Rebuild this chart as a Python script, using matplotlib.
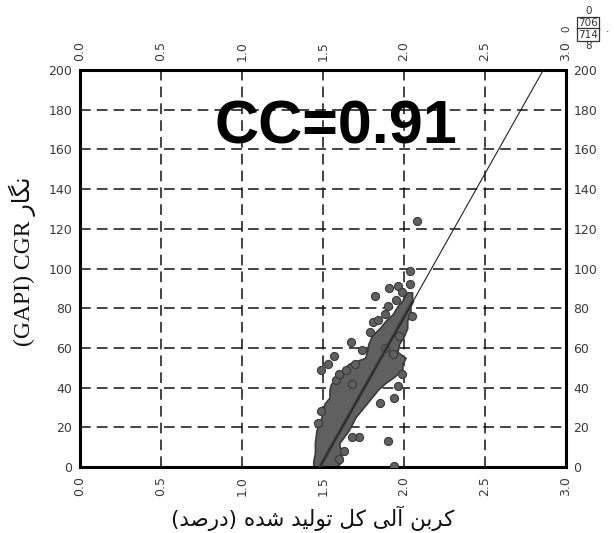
import matplotlib
matplotlib.use("Agg")
import matplotlib.pyplot as plt

# x ticks / y ticks
x_ticks = [0.0, 0.5, 1.0, 1.5, 2.0, 2.5, 3.0]
x_tick_labels = ["0.0", "0.5", "1.0", "1.5", "2.0", "2.5", "3.0"]
y_ticks = [0, 20, 40, 60, 80, 100, 120, 140, 160, 180, 200]

# dense cloud of samples, read as left / right edges per GR value
cloud_y = [0, 3, 7, 12, 18.6, 25, 32, 35, 39, 42, 45.5, 49, 52, 55, 58, 62, 66,
           70, 74, 77, 81, 84, 88]
cloud_left = [1.44, 1.44, 1.45, 1.45, 1.46, 1.49, 1.51, 1.54, 1.54, 1.55, 1.62,
              1.62, 1.66, 1.76, 1.77, 1.78, 1.80, 1.85, 1.89, 1.93, 1.96, 1.99, 2.02]
cloud_right = [1.58, 1.62, 1.61, 1.60, 1.66, 1.70, 1.77, 1.80, 1.84, 1.88, 1.94,
               1.99, 1.99, 2.01, 1.96, 1.97, 2.00, 2.02, 2.02, 2.04, 2.04, 2.05, 2.05]

# scattered samples off / on the edge of the main cloud
pts_x = [2.08, 2.04, 2.04, 1.96, 1.91, 1.82, 1.90, 2.05, 1.81, 1.79, 1.67, 1.74,
         1.57, 1.53, 1.49, 1.70, 1.64, 1.99, 1.68, 1.96, 1.94, 1.85, 1.90, 1.94,
         1.72, 1.68, 1.58, 1.60, 1.88, 1.93, 1.97, 1.84, 1.88, 1.95, 1.99,
         1.47, 1.49, 1.60, 1.63]
pts_y = [124, 99, 92, 91, 90, 86, 81, 76, 73, 68, 63, 59,
         56, 52, 49, 52, 49, 47, 42, 41, 35, 32, 13, 0.5,
         15, 15, 44, 47, 60, 57, 66, 74, 77, 84, 88,
         22, 28, 4, 8]

# fitted line (end points)
fit_x = [1.48, 2.86]
fit_y = [0, 200]
core_x = [1.48, 2.05]
core_y = [0, 83]

cc_text = "CC=0.91"
# Persian labels written in visual order with presentation forms
xlabel = ("(\uFEAA\uFEBB\uFEAD\uFEA9) \uFEE9\uFEAA\uFEB7 "
          "\uFEAA\uFBFF\uFEDF\uFEEE\uFE97 \uFEDE\uFB90 "
          "\uFBFD\uFEDF\uFE81 \uFEE6\uFE91\uFEAE\uFB90")
ylabel = "(GAPI) CGR \uFEAD\uFE8E\uFB95\uFEE7"

tick_font = dict(family="DejaVu Sans", size=9, color="#3a3a3a")

fig = plt.figure(figsize=(6.14, 5.33), dpi=100)
ax = fig.add_axes([0.1303, 0.1238, 0.7915, 0.7448])

ax.set_xlim(0, 3)
ax.set_ylim(0, 200)
ax.set_axisbelow(True)
ax.grid(True, color="#111111", linestyle=(0, (7, 4)), linewidth=1.1)

ax.fill_betweenx(cloud_y, cloud_left, cloud_right, facecolor="#606060",
                 edgecolor="#3a3a3a", linewidth=1.2, zorder=2)
ax.scatter(pts_x, pts_y, s=34, color="#606060", edgecolors="#3a3a3a",
           linewidths=0.8, zorder=3)
ax.plot(core_x, core_y, color="#454545", linewidth=2.5, zorder=4)
ax.plot(fit_x, fit_y, color="#222222", linewidth=0.8, zorder=4)

ax.text(1.58, 171, cc_text, ha="center", va="center", fontsize=44,
        fontweight="bold", family="Liberation Sans", color="black", zorder=5)

ax.set_xticks(x_ticks)
ax.set_xticklabels(x_tick_labels, rotation=90)
ax.set_yticks(y_ticks)
ax.set_yticklabels([str(v) for v in y_ticks])
ax.tick_params(axis="x", which="both", bottom=False, top=False,
               labelbottom=True, labeltop=True, pad=3)
ax.tick_params(axis="y", which="both", left=False, right=False,
               labelleft=True, labelright=True, pad=2)
for t in ax.xaxis.get_major_ticks() + ax.yaxis.get_major_ticks():
    for lbl in (t.label1, t.label2):
        lbl.set_family(tick_font["family"])
        lbl.set_fontsize(tick_font["size"])
        lbl.set_color(tick_font["color"])
for t in ax.xaxis.get_major_ticks():
    t.label1.set_rotation(90)
    t.label2.set_rotation(90)

for s in ax.spines.values():
    s.set_linewidth(2.2)
    s.set_color("black")

fig.text(0.51, 0.028, xlabel, ha="center", va="center", fontsize=15.5,
         family=["DejaVu Sans"], color="#111111")
fig.text(0.036, 0.51, ylabel, ha="center", va="center", rotation=90,
         fontsize=17, family=["Liberation Serif", "DejaVu Sans"], color="#111111")

# little legend box in the corner
box = dict(boxstyle="square,pad=0.12", facecolor="white", edgecolor="#333333",
           linewidth=0.9)
small = dict(ha="center", va="center", fontsize=7.5, color="#333333",
             family="DejaVu Sans")
fig.text(0.958, 0.979, "0", **small)
fig.text(0.958, 0.956, "706", bbox=box, **small)
fig.text(0.958, 0.935, "714", bbox=box, **small)
fig.text(0.958, 0.914, "8", **small)
fig.text(0.922, 0.946, "0", rotation=90, **small)
fig.text(0.99, 0.946, ".", **small)

fig.savefig("out.png", dpi=100)
